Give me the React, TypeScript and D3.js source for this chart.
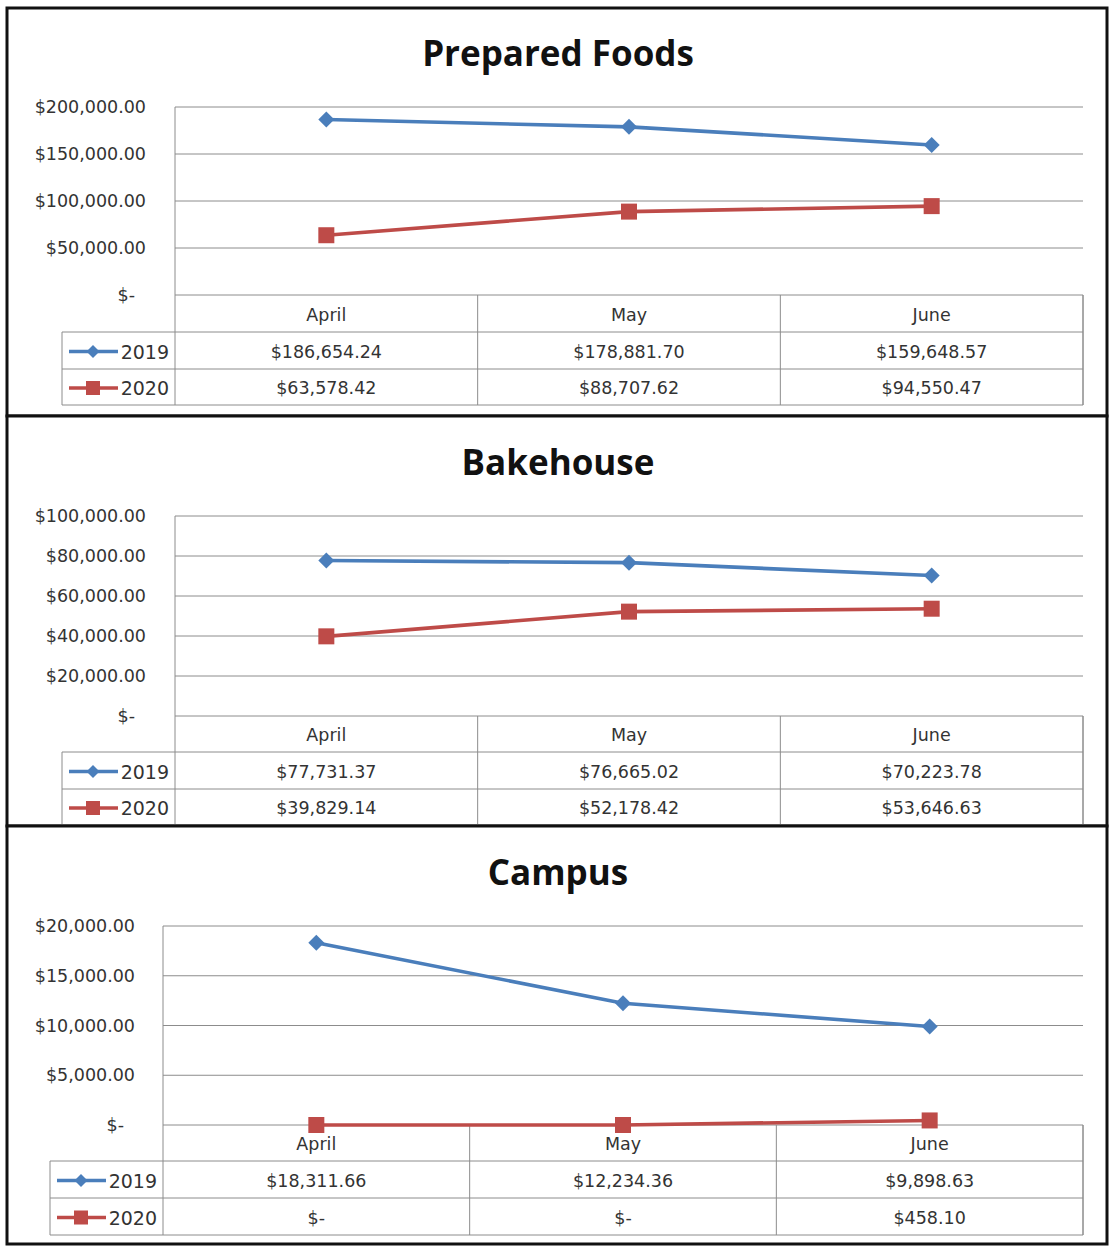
import React from "react";
import * as d3 from "d3";

const months = ["April", "May", "June"];
const seriesNames = ["2019", "2020"];

const preparedFoods2019 = [186654.24, 178881.7, 159648.57];
const preparedFoods2020 = [63578.42, 88707.62, 94550.47];
const preparedFoodsTicks = [0, 50000, 100000, 150000, 200000];

const bakehouse2019 = [77731.37, 76665.02, 70223.78];
const bakehouse2020 = [39829.14, 52178.42, 53646.63];
const bakehouseTicks = [0, 20000, 40000, 60000, 80000, 100000];

const campus2019 = [18311.66, 12234.36, 9898.63];
const campus2020 = [0, 0, 458.1];
const campusTicks = [0, 5000, 10000, 15000, 20000];

const titles = ["Prepared Foods", "Bakehouse", "Campus"];

const BLUE = "#4a7ebb";
const RED = "#be4b48";
const GRID = "#8c8c8c";
const TEXT = "#333333";
const FONT = "'DejaVu Sans', sans-serif";
const TITLE_FONT = "'Open Sans', sans-serif";

const fmt = d3.format("$,.2f");
const money = (v: number) => (v === 0 ? "$-" : fmt(v));

type Layout = {
  top: number;
  bottom: number;
  titleY: number;
  plotTop: number;
  plotBottom: number;
  plotLeft: number;
  plotRight: number;
  legendLeft: number;
  rows: number[];
  labelRight: number;
};

const layouts: Layout[] = [
  { top: 8, bottom: 416, titleY: 52, plotTop: 107, plotBottom: 295, plotLeft: 175, plotRight: 1083, legendLeft: 62, rows: [332, 369, 405], labelRight: 146 },
  { top: 416, bottom: 826, titleY: 461, plotTop: 516, plotBottom: 716, plotLeft: 175, plotRight: 1083, legendLeft: 62, rows: [752, 789, 825], labelRight: 146 },
  { top: 826, bottom: 1244, titleY: 871, plotTop: 926, plotBottom: 1125, plotLeft: 163, plotRight: 1083, legendLeft: 50, rows: [1161, 1198, 1235], labelRight: 135 },
];

const chartData = [
  { s2019: preparedFoods2019, s2020: preparedFoods2020, ticks: preparedFoodsTicks },
  { s2019: bakehouse2019, s2020: bakehouse2020, ticks: bakehouseTicks },
  { s2019: campus2019, s2020: campus2020, ticks: campusTicks },
];

function Diamond({ x, y, r, color }: { x: number; y: number; r: number; color: string }) {
  return <path d={`M${x},${y - r}L${x + r},${y}L${x},${y + r}L${x - r},${y}Z`} fill={color} />;
}
function Square({ x, y, r, color }: { x: number; y: number; r: number; color: string }) {
  return <rect x={x - r} y={y - r} width={2 * r} height={2 * r} fill={color} />;
}

function Panel({ idx }: { idx: number }) {
  const L = layouts[idx];
  const D = chartData[idx];
  const ticks = D.ticks;
  const y = d3.scaleLinear().domain([0, d3.max(ticks) as number]).range([L.plotBottom, L.plotTop]);
  const x = d3.scaleBand().domain(months).range([L.plotLeft, L.plotRight]).padding(0);
  const cx = (m: string) => (x(m) as number) + x.bandwidth() / 2;
  const line = d3
    .line<number>()
    .x((_, i) => cx(months[i]))
    .y((v) => y(v));
  const series = [
    { name: seriesNames[0], values: D.s2019, color: BLUE, kind: "diamond" },
    { name: seriesNames[1], values: D.s2020, color: RED, kind: "square" },
  ];
  const rowTops = [L.plotBottom, L.rows[0], L.rows[1]];
  const rowBottoms = L.rows;
  return (
    <g>
      <rect x={7} y={L.top} width={1100} height={L.bottom - L.top} fill="white" stroke="#111" strokeWidth={3} />
      <text x={558} y={L.titleY} textAnchor="middle" dominantBaseline="central" fontFamily={TITLE_FONT} fontWeight={700} fontSize={35} fill="#111">
        {titles[idx]}
      </text>
      {ticks.map((t) => (
        <line key={t} x1={L.plotLeft} x2={L.plotRight} y1={y(t)} y2={y(t)} stroke={GRID} strokeWidth={1} />
      ))}
      {ticks.map((t) => (
        <text
          key={"l" + t}
          x={t === 0 ? L.labelRight - 11 : L.labelRight}
          y={y(t)}
          textAnchor="end"
          dominantBaseline="central"
          fontFamily={FONT}
          fontSize={17.5}
          fill={TEXT}
        >
          {money(t)}
        </text>
      ))}
      <line x1={L.plotLeft} x2={L.plotLeft} y1={L.plotTop} y2={L.rows[2]} stroke={GRID} />
      <line x1={L.plotRight} x2={L.plotRight} y1={L.plotBottom} y2={L.rows[2]} stroke={GRID} />
      {months.map((m) => (
        <line key={"v" + m} x1={(x(m) as number) + x.bandwidth()} x2={(x(m) as number) + x.bandwidth()} y1={L.plotBottom} y2={L.rows[2]} stroke={GRID} />
      ))}
      <line x1={L.legendLeft} x2={L.legendLeft} y1={L.rows[0]} y2={L.rows[2]} stroke={GRID} />
      {L.rows.map((r) => (
        <line key={"h" + r} x1={L.legendLeft} x2={L.plotRight} y1={r} y2={r} stroke={GRID} />
      ))}
      {months.map((m) => (
        <text key={"m" + m} x={cx(m)} y={(L.plotBottom + L.rows[0]) / 2 + 1} textAnchor="middle" dominantBaseline="central" fontFamily={FONT} fontSize={17.5} fill={TEXT}>
          {m}
        </text>
      ))}
      {series.map((s, si) => {
        const rc = (rowTops[si + 1] + rowBottoms[si + 1]) / 2 + 1;
        return (
          <g key={s.name}>
            <line x1={L.legendLeft + 7} x2={L.legendLeft + 56} y1={rc} y2={rc} stroke={s.color} strokeWidth={3.5} />
            {s.kind === "diamond" ? (
              <Diamond x={L.legendLeft + 31} y={rc} r={6.5} color={s.color} />
            ) : (
              <Square x={L.legendLeft + 31} y={rc} r={7} color={s.color} />
            )}
            <text x={L.plotLeft - 6} y={rc} textAnchor="end" dominantBaseline="central" fontFamily={FONT} fontSize={19} fill={TEXT}>
              {s.name}
            </text>
            {s.values.map((v, i) => (
              <text key={i} x={cx(months[i])} y={rc} textAnchor="middle" dominantBaseline="central" fontFamily={FONT} fontSize={17.5} fill={TEXT}>
                {money(v)}
              </text>
            ))}
          </g>
        );
      })}
      {series.map((s) => (
        <g key={"s" + s.name}>
          <path d={line(s.values) as string} fill="none" stroke={s.color} strokeWidth={3.6} />
          {s.values.map((v, i) =>
            s.kind === "diamond" ? (
              <Diamond key={i} x={cx(months[i])} y={y(v)} r={8} color={s.color} />
            ) : (
              <Square key={i} x={cx(months[i])} y={y(v)} r={8} color={s.color} />
            )
          )}
        </g>
      ))}
    </g>
  );
}

export default function App() {
  return (
    <svg width={1111} height={1247} style={{ position: "absolute", left: 0, top: 0, background: "white" }}>
      <rect x={0} y={0} width={1111} height={1247} fill="white" />
      {layouts.map((_, i) => (
        <Panel key={i} idx={i} />
      ))}
    </svg>
  );
}
